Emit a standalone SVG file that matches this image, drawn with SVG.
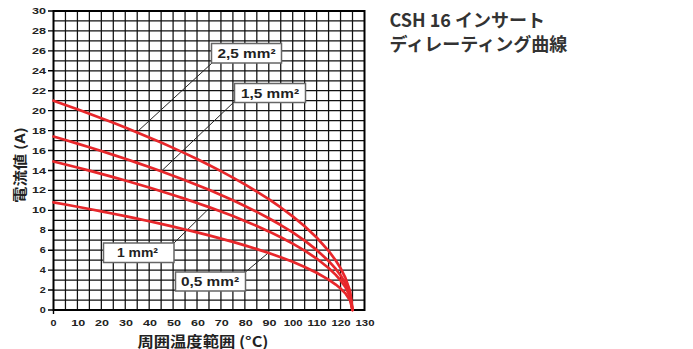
<svg xmlns="http://www.w3.org/2000/svg" width="693" height="349" viewBox="0 0 693 349">
<style>
.grid{fill:none;stroke:#111;stroke-width:1.25}
.frame{fill:none;stroke:#000;stroke-width:2}
.tick{fill:none;stroke:#000;stroke-width:1.4}
.curve{fill:none;stroke:#e8272b;stroke-width:2.7;stroke-linejoin:round;stroke-linecap:round}
.leader{fill:none;stroke:#222;stroke-width:1}
.box{fill:#fff;stroke:#666;stroke-width:1.5}
.lbl{font-family:"Liberation Sans",Arial,sans-serif;font-weight:bold;font-size:12.5px;fill:#222}
.ty{font-family:"Liberation Sans",Arial,sans-serif;font-weight:bold;font-size:8.3px;fill:#222}
.tx{font-family:"Liberation Sans",Arial,sans-serif;font-weight:bold;font-size:8.6px;fill:#222;text-anchor:middle}
.axt{font-family:"Noto Sans CJK JP",sans-serif;font-weight:bold;fill:#222}
.title{font-family:"Noto Sans CJK JP",sans-serif;font-weight:bold;font-size:18px;fill:#333}
</style>
<rect width="693" height="349" fill="#fff"/>
<g id="grid">
<path class="grid" d="M65.46 11V310M77.42 11V310M89.38 11V310M101.34 11V310M113.3 11V310M125.26 11V310M137.22 11V310M149.18 11V310M161.14 11V310M173.1 11V310M185.06 11V310M197.02 11V310M208.98 11V310M220.94 11V310M232.9 11V310M244.86 11V310M256.82 11V310M268.78 11V310M280.74 11V310M292.7 11V310M304.66 11V310M316.62 11V310M328.58 11V310M340.54 11V310M352.5 11V310"/>
<path class="grid" d="M53.5 300.03H364.5M53.5 290.07H364.5M53.5 280.1H364.5M53.5 270.13H364.5M53.5 260.17H364.5M53.5 250.2H364.5M53.5 240.23H364.5M53.5 230.26H364.5M53.5 220.3H364.5M53.5 210.33H364.5M53.5 200.36H364.5M53.5 190.4H364.5M53.5 180.43H364.5M53.5 170.46H364.5M53.5 160.5H364.5M53.5 150.53H364.5M53.5 140.56H364.5M53.5 130.59H364.5M53.5 120.63H364.5M53.5 110.66H364.5M53.5 100.69H364.5M53.5 90.73H364.5M53.5 80.76H364.5M53.5 70.79H364.5M53.5 60.83H364.5M53.5 50.86H364.5M53.5 40.89H364.5M53.5 30.92H364.5M53.5 20.96H364.5"/>
<rect class="frame" x="53.5" y="11" width="311" height="299"/>
<path class="tick" d="M48 310H53.5M48 290.07H53.5M48 270.13H53.5M48 250.2H53.5M48 230.26H53.5M48 210.33H53.5M48 190.4H53.5M48 170.46H53.5M48 150.53H53.5M48 130.59H53.5M48 110.66H53.5M48 90.73H53.5M48 70.79H53.5M48 50.86H53.5M48 30.92H53.5M48 11H53.5M53.5 310V314"/>
</g>
<g id="y-labels">
<text class="ty" x="39.8" y="313" textLength="6" lengthAdjust="spacingAndGlyphs">0</text>
<text class="ty" x="39.8" y="293.1" textLength="6" lengthAdjust="spacingAndGlyphs">2</text>
<text class="ty" x="39.8" y="273.1" textLength="6" lengthAdjust="spacingAndGlyphs">4</text>
<text class="ty" x="39.8" y="253.2" textLength="6" lengthAdjust="spacingAndGlyphs">6</text>
<text class="ty" x="39.8" y="233.3" textLength="6" lengthAdjust="spacingAndGlyphs">8</text>
<text class="ty" x="32" y="213.3" textLength="14" lengthAdjust="spacingAndGlyphs">10</text>
<text class="ty" x="32" y="193.4" textLength="14" lengthAdjust="spacingAndGlyphs">12</text>
<text class="ty" x="32" y="173.5" textLength="14" lengthAdjust="spacingAndGlyphs">14</text>
<text class="ty" x="32" y="153.5" textLength="14" lengthAdjust="spacingAndGlyphs">16</text>
<text class="ty" x="32" y="133.6" textLength="14" lengthAdjust="spacingAndGlyphs">18</text>
<text class="ty" x="32" y="113.7" textLength="14" lengthAdjust="spacingAndGlyphs">20</text>
<text class="ty" x="32" y="93.7" textLength="14" lengthAdjust="spacingAndGlyphs">22</text>
<text class="ty" x="32" y="73.8" textLength="14" lengthAdjust="spacingAndGlyphs">24</text>
<text class="ty" x="32" y="53.9" textLength="14" lengthAdjust="spacingAndGlyphs">26</text>
<text class="ty" x="32" y="33.9" textLength="14" lengthAdjust="spacingAndGlyphs">28</text>
<text class="ty" x="32" y="14" textLength="14" lengthAdjust="spacingAndGlyphs">30</text>
</g>
<g id="x-labels">
<text class="tx" x="53.5" y="325.5" textLength="6" lengthAdjust="spacingAndGlyphs">0</text>
<text class="tx" x="78.2" y="325.5" textLength="14" lengthAdjust="spacingAndGlyphs">10</text>
<text class="tx" x="102.1" y="325.5" textLength="14" lengthAdjust="spacingAndGlyphs">20</text>
<text class="tx" x="126" y="325.5" textLength="14" lengthAdjust="spacingAndGlyphs">30</text>
<text class="tx" x="150" y="325.5" textLength="14" lengthAdjust="spacingAndGlyphs">40</text>
<text class="tx" x="173.9" y="325.5" textLength="14" lengthAdjust="spacingAndGlyphs">50</text>
<text class="tx" x="197.9" y="325.5" textLength="14" lengthAdjust="spacingAndGlyphs">60</text>
<text class="tx" x="221.8" y="325.5" textLength="14" lengthAdjust="spacingAndGlyphs">70</text>
<text class="tx" x="245.7" y="325.5" textLength="14" lengthAdjust="spacingAndGlyphs">80</text>
<text class="tx" x="269.6" y="325.5" textLength="14" lengthAdjust="spacingAndGlyphs">90</text>
<text class="tx" x="293.2" y="325.5" textLength="19" lengthAdjust="spacingAndGlyphs">100</text>
<text class="tx" x="317.1" y="325.5" textLength="19" lengthAdjust="spacingAndGlyphs">110</text>
<text class="tx" x="341" y="325.5" textLength="19" lengthAdjust="spacingAndGlyphs">120</text>
<text class="tx" x="365" y="325.5" textLength="19" lengthAdjust="spacingAndGlyphs">130</text>
</g>
<g id="axis-titles">
<text class="axt" font-size="13.5" x="25" y="165" text-anchor="middle" textLength="76" lengthAdjust="spacingAndGlyphs" transform="rotate(-90 25 165)">電流値 (A)</text>
<text class="axt" font-size="14.5" x="203" y="346.5" text-anchor="middle" textLength="131" lengthAdjust="spacingAndGlyphs">周囲温度範囲 (°C)</text>
</g>
<g id="connectors">
<path class="leader" d="M212 63L136.8 132.2"/>
<path class="leader" d="M235 101L161.2 171.3"/>
<path class="leader" d="M174 243L210 207.5"/>
<path class="leader" d="M245.5 272L268.2 253"/>
</g>
<g id="curves">
<path id="curve-2-5" class="curve" d="M53.5 100.69L65.46 104.92L77.42 109.23L89.38 113.65L101.34 118.17L113.3 122.79L125.26 127.52L137.22 132.4L149.18 137.4L161.14 142.55L173.1 147.87L185.06 153.37L197.02 159.07L208.98 164.99L220.94 171.16L232.9 177.61L244.86 184.41L256.82 191.59L268.78 199.23L280.74 207.46L292.7 216.4L304.66 226.28L316.62 237.49L328.58 250.81L335.76 260.48L340.54 268.14L345.32 277.58L350.11 291.29L352.5 310"/>
<path id="curve-1-5" class="curve" d="M53.5 136.57L65.46 140.07L77.42 143.65L89.38 147.31L101.34 151.05L113.3 154.88L125.26 158.8L137.22 162.85L149.18 166.99L161.14 171.26L173.1 175.66L185.06 180.22L197.02 184.94L208.98 189.85L220.94 194.96L232.9 200.31L244.86 205.94L256.82 211.89L268.78 218.22L280.74 225.04L292.7 232.44L304.66 240.63L316.62 249.92L328.58 260.95L335.76 268.97L340.54 275.31L345.32 283.14L350.11 294.5L352.5 310"/>
<path id="curve-1" class="curve" d="M53.5 161.49L65.46 164.49L77.42 167.55L89.38 170.68L101.34 173.89L113.3 177.17L125.26 180.53L137.22 183.99L149.18 187.54L161.14 191.19L173.1 194.96L185.06 198.87L197.02 202.91L208.98 207.11L220.94 211.49L232.9 216.07L244.86 220.89L256.82 225.99L268.78 231.41L280.74 237.24L292.7 243.59L304.66 250.6L316.62 258.56L328.58 268L335.76 274.86L340.54 280.3L345.32 287L350.11 296.72L352.5 310"/>
<path id="curve-0-5" class="curve" d="M53.5 202.36L65.46 204.53L77.42 206.75L89.38 209.02L101.34 211.35L113.3 213.73L125.26 216.16L137.22 218.67L149.18 221.24L161.14 223.89L173.1 226.62L185.06 229.45L197.02 232.38L208.98 235.43L220.94 238.6L232.9 241.92L244.86 245.42L256.82 249.11L268.78 253.04L280.74 257.27L292.7 261.86L304.66 266.94L316.62 272.71L328.58 279.56L335.76 284.53L340.54 288.47L345.32 293.33L350.11 300.38L352.5 310"/>
</g>
<g id="label-2-5">
<rect class="box" x="211.5" y="43.5" width="70" height="19.5"/>
<text class="lbl" x="246.5" y="57.8" text-anchor="middle" textLength="58" lengthAdjust="spacingAndGlyphs">2,5 mm²</text>
</g>
<g id="label-1-5">
<rect class="box" x="234.5" y="83.5" width="71" height="19"/>
<text class="lbl" x="270" y="97.6" text-anchor="middle" textLength="58" lengthAdjust="spacingAndGlyphs">1,5 mm²</text>
</g>
<g id="label-1">
<rect class="box" x="103.5" y="243" width="70.5" height="19.5"/>
<text class="lbl" x="137.5" y="257.3" text-anchor="middle" textLength="41" lengthAdjust="spacingAndGlyphs">1 mm²</text>
</g>
<g id="label-0-5">
<rect class="box" x="175.5" y="272" width="70" height="19"/>
<text class="lbl" x="210" y="286.1" text-anchor="middle" textLength="58" lengthAdjust="spacingAndGlyphs">0,5 mm²</text>
</g>
<g id="title">
<text class="title" x="389.5" y="27">CSH 16 インサート</text>
<text class="title" x="389.5" y="51">ディレーティング曲線</text>
</g>
</svg>
